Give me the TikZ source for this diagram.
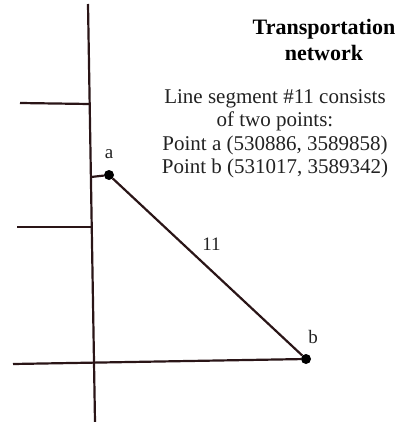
\documentclass[tikz,border=0pt]{standalone}
\usepackage{fontspec}
\setmainfont{Liberation Serif}
\usepackage{xcolor}
\usetikzlibrary{positioning}
\definecolor{roadline}{HTML}{2A1517}
\definecolor{inktext}{HTML}{222222}

\begin{document}
\begin{tikzpicture}[x=1pt, y=-1pt,
    road/.style={line width=2.2pt, draw=roadline},
    dot/.style={circle, fill=black, inner sep=0pt, minimum size=10pt},
    lbl/.style={font=\fontsize{19}{22}\selectfont, text=inktext},
    heading/.style={align=center, font=\fontsize{22}{26.5}\selectfont\bfseries, text=black},
    info/.style={align=center, font=\fontsize{21}{23.5}\selectfont, text=inktext}
  ]
    \useasboundingbox (0,0) rectangle (408,422);

    % road network
    \coordinate (vtop) at (88,4);
    \coordinate (vbot) at (95,422);
    \coordinate (w1) at (20,103);
    \coordinate (j1) at (89.5,104);
    \coordinate (w2) at (17,227);
    \coordinate (j2) at (91.5,227);
    \coordinate (j3) at (91,177);
    \coordinate (w3) at (13,364);

    \node[dot] (pa) at (109,175) {};
    \node[dot] (pb) at (306,359) {};

    \draw[road] (vtop) -- (vbot);
    \draw[road] (w1) -- (j1);
    \draw[road] (w2) -- (j2);
    \draw[road] (j3) -- (pa);
    \draw[road] (pa) -- node[lbl, midway, above=12pt, xshift=4pt] (seglbl) {11} (pb);
    \draw[road] (w3) -- (pb);

    \node[lbl, above=8pt of pa] (lbla) {a};
    \node[lbl, above=7pt of pb, xshift=7pt] (lblb) {b};

    % text
    \node[heading] (title) at (324,40) {Transportation\\network};
    \node[info] (seginfo) at (275,134) {Line segment \#11 consists\\of two points:\\Point a (530886, 3589858)\\Point b (531017, 3589342)};
\end{tikzpicture}
\end{document}
